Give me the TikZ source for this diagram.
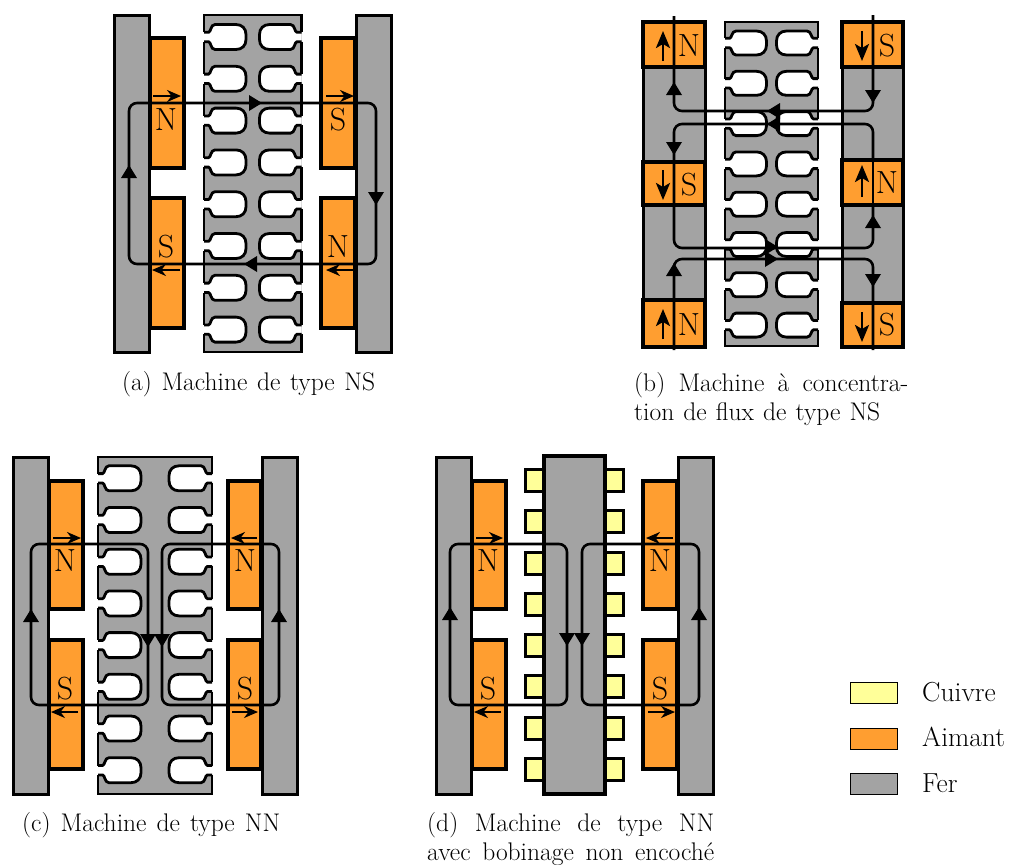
\documentclass[tikz,border=0pt]{standalone}
\usetikzlibrary{arrows.meta}
\definecolor{ironc}{RGB}{163,163,163}
\definecolor{magc}{RGB}{255,158,48}
\definecolor{cuc}{RGB}{255,255,153}
\tikzset{
  x=1pt,y=-1pt,
  fer/.style={fill=ironc,draw=black,line width=3pt},
  aimant/.style={fill=magc,draw=black,line width=3.5pt},
  cuivre/.style={fill=cuc,draw=black,line width=3pt},
  stline/.style={draw=black,line width=2.8pt},
  flux/.style={draw=black,line width=2.6pt,rounded corners=8pt},
  fline/.style={draw=black,line width=2.6pt},
  vecarr/.style={draw=black,line width=2pt,-{Stealth[length=14pt,width=12pt,inset=4.5pt]}},
  bigarr/.style={draw=black,line width=2.6pt,-{Stealth[length=17pt,width=14pt,inset=4pt]}},
  pole/.style={inner sep=0pt,font=\fontsize{32}{32}\selectfont},
  captxt/.style={inner sep=0pt,anchor=base west,font=\fontsize{25.5}{30}\selectfont},
  legtxt/.style={inner sep=0pt,anchor=base west,font=\fontsize{27.5}{30}\selectfont},
  legbox/.style={draw=black,line width=1pt},
}
\newcommand\tip[3]{\fill[black,shift={(#1,#2)},rotate=#3] (0pt,0pt) -- (-13pt,-8pt) -- (-13pt,8pt) -- cycle;}
% edge, y, sign, depth, half height
\newcommand\slt[5]{\begin{scope}[shift={(#1,#2)},xscale=#3]
  \filldraw[fill=white,stline] (0,-4.7) -- (4.5,-4.7) .. controls (7,-4.7) and (6.5,-#5) .. (11,-#5) -- (#4-10,-#5)
   .. controls (#4-4,-#5) and (#4,-#5+4) .. (#4,-#5+10) -- (#4,#5-10)
   .. controls (#4,#5-4) and (#4-4,#5) .. (#4-10,#5) -- (11,#5) .. controls (6.5,#5) and (7,4.7) .. (4.5,4.7) -- (0,4.7);
\end{scope}}
% L R top bot y1 pitch depth h
\newcommand\stator[8]{
  \fill[ironc] (#1,#3) rectangle (#2,#4);
  \pgfmathsetmacro\ya{#5-4.7}\pgfmathsetmacro\yb{#5+7*#6+4.7}
  \draw[stline,line join=miter] (#1,\ya) -- (#1,#3) -- (#2,#3) -- (#2,\ya);
  \draw[stline,line join=miter] (#1,\yb) -- (#1,#4) -- (#2,#4) -- (#2,\yb);
  \foreach \i in {0,...,6}{
    \draw[stline] (#1,#5+\i*#6+4.7) -- (#1,#5+\i*#6+#6-4.7);
    \draw[stline] (#2,#5+\i*#6+4.7) -- (#2,#5+\i*#6+#6-4.7);
  }
  \foreach \i in {0,...,7}{
    \slt{#1}{#5+\i*#6}{1}{#7}{#8}
    \slt{#2}{#5+\i*#6}{-1}{#7}{#8}
  }
}
\begin{document}
\begin{tikzpicture}
\useasboundingbox (0,0) rectangle (1010,865);
%% (a)
\draw[aimant] (150,38) rectangle (184,168);
\draw[aimant] (150,198) rectangle (184,328);
\draw[aimant] (321,38) rectangle (355,168);
\draw[aimant] (321,198) rectangle (355,328);
\draw[fer] (114,15) rectangle (149,352);
\draw[fer] (356,15) rectangle (391,352);
\stator{204}{301.5}{15}{352}{37}{41.8}{42}{12.5}
\node[pole] (aN1) at (166,120) {N};
\node[pole] (aS1) at (338,120) {S};
\node[pole] (aS2) at (166,247) {S};
\node[pole] (aN2) at (338,247) {N};
\draw[flux] (129,103) rectangle (376,264);
\tip{129}{165}{90}\tip{262}{103}{0}\tip{376}{205}{270}\tip{244}{264}{180}
\draw[vecarr] (153,96) -- (181,96);
\draw[vecarr] (326,96) -- (354,96);
\draw[vecarr] (180,270) -- (152,270);
\draw[vecarr] (354,270) -- (326,270);
\node[captxt] (capa) at (122,390) {\makebox[253pt][s]{(a) Machine de type NS}};
%% (b)
\fill[ironc] (643,67) rectangle (705,300);
\fill[ironc] (842,67) rectangle (903,303);
\draw[fer] (643,67) rectangle (705,162);
\draw[fer] (643,205) rectangle (705,300);
\draw[fer] (842,67) rectangle (903,160);
\draw[fer] (842,205) rectangle (903,303);
\draw[aimant] (643,22) rectangle (705,67);
\draw[aimant] (643,162) rectangle (705,205);
\draw[aimant] (643,300) rectangle (705,347);
\draw[aimant] (842,22) rectangle (903,67);
\draw[aimant] (842,160) rectangle (903,205);
\draw[aimant] (842,303) rectangle (903,347);
\stator{725}{818}{22}{346}{43}{40.3}{41.5}{12}
\node[pole] (bN1) at (689,46) {N};
\node[pole] (bS1) at (887,46) {S};
\node[pole] (bS2) at (689,185) {S};
\node[pole] (bN2) at (887,183) {N};
\node[pole] (bN3) at (689,325) {N};
\node[pole] (bS3) at (887,325) {S};
\draw[flux] (674,16) -- (674,111) -- (873,111) -- (873,15);
\draw[flux] (674,162) -- (674,124) -- (873,124) -- (873,162);
\draw[flux] (674,162) -- (674,248) -- (873,248) -- (873,205);
\draw[flux] (674,350) -- (674,259) -- (873,259) -- (873,350);
\draw[fline] (873,162) -- (873,205);
\tip{674}{82}{90}\tip{873}{103}{270}\tip{767}{111}{180}
\tip{674}{155}{270}\tip{767}{124}{180}
\tip{873}{215}{90}\tip{778}{247}{0}
\tip{674}{263}{90}\tip{873}{287}{270}\tip{778}{259}{0}
\draw[bigarr] (663,61) -- (663,31);
\draw[bigarr] (663,170) -- (663,200);
\draw[bigarr] (663,339) -- (663,309);
\draw[bigarr] (862,31) -- (862,61);
\draw[bigarr] (862,197) -- (862,165);
\draw[bigarr] (862,312) -- (862,342);
\node[captxt] (capb1) at (634,391) {\makebox[274pt][s]{(b) Machine à concentra-}};
\node[captxt] (capb2) at (634,420) {\makebox[246pt][s]{tion de flux de type NS}};
%% (c)
\draw[aimant] (49,481) rectangle (83,609);
\draw[aimant] (49,640) rectangle (83,769);
\draw[aimant] (228,481) rectangle (261,609);
\draw[aimant] (228,640) rectangle (261,769);
\draw[fer] (13,457) rectangle (48,794);
\draw[fer] (262,457) rectangle (297,794);
\stator{98}{212}{457}{794}{478.3}{41.7}{43}{12.5}
\node[pole] (cN1) at (65,561) {N};
\node[pole] (cS1) at (65,689) {S};
\node[pole] (cN2) at (245,561) {N};
\node[pole] (cS2) at (245,689) {S};
\draw[flux] (31,544) rectangle (148,705);
\draw[flux] (162,544) rectangle (279,705);
\tip{31}{609}{90}\tip{279}{609}{90}\tip{148}{647}{270}\tip{162}{647}{270}
\draw[vecarr] (53,538) -- (81,538);
\draw[vecarr] (78,712) -- (51,712);
\draw[vecarr] (257,538) -- (231,538);
\draw[vecarr] (232,712) -- (258,712);
\node[captxt] (capc) at (22,831) {\makebox[258pt][s]{(c) Machine de type NN}};
%% (d)
\foreach \i in {0,...,7}{
  \draw[cuivre] (525.5,469.5+\i*41.25) rectangle (544,491.5+\i*41.25);
  \draw[cuivre] (605,469.5+\i*41.25) rectangle (623.5,491.5+\i*41.25);
}
\draw[aimant] (472,481) rectangle (506,609);
\draw[aimant] (472,640) rectangle (506,769);
\draw[aimant] (643,481) rectangle (677,609);
\draw[aimant] (643,640) rectangle (677,769);
\draw[fer] (436,457) rectangle (471,794);
\draw[fer] (678,457) rectangle (713,794);
\draw[fer,line width=3.5pt] (544,456) rectangle (605,794);
\node[pole] (dN1) at (488,561) {N};
\node[pole] (dS1) at (488,689) {S};
\node[pole] (dN2) at (660,561) {N};
\node[pole] (dS2) at (660,689) {S};
\draw[flux] (450,544) rectangle (567,705);
\draw[flux] (582,544) rectangle (699,705);
\tip{450}{607}{90}\tip{699}{607}{90}\tip{567}{646}{270}\tip{582}{646}{270}
\draw[vecarr] (476,538) -- (503,538);
\draw[vecarr] (501,712) -- (474,712);
\draw[vecarr] (673,538) -- (646,538);
\draw[vecarr] (648,712) -- (675,712);
\node[captxt] (capd1) at (427,831) {\makebox[287pt][s]{(d) Machine de type NN}};
\node[captxt] (capd2) at (427,860) {\makebox[287pt][s]{avec bobinage non encoché}};
%% legend
\draw[legbox,fill=cuc] (850,682) rectangle (897,703);
\draw[legbox,fill=magc] (850,728) rectangle (897,749);
\draw[legbox,fill=ironc] (850,773) rectangle (897,794);
\node[legtxt] (l1) at (922,701) {Cuivre};
\node[legtxt] (l2) at (922,746) {Aimant};
\node[legtxt] (l3) at (922,792) {Fer};
\end{tikzpicture}
\end{document}
